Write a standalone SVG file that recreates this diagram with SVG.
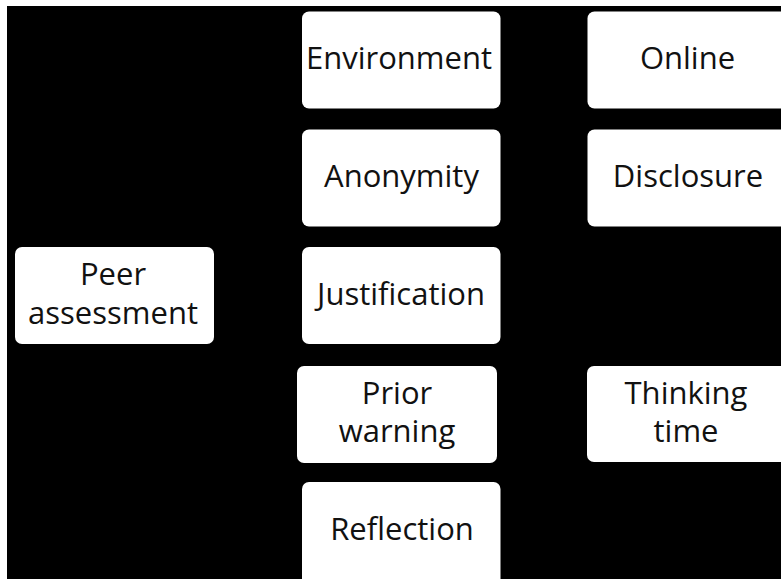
<svg xmlns="http://www.w3.org/2000/svg" width="781" height="579" viewBox="0 0 781 579">
<style>
.box{fill:#ffffff;}
.t{font-family:"Open Sans","Noto Sans","DejaVu Sans",sans-serif;font-size:31px;fill:#111111;text-anchor:middle;}
</style>
<rect x="0" y="0" width="781" height="579" fill="#ffffff"/>
<rect x="7" y="6" width="774" height="573" fill="#000000"/>
<g id="connectors"></g>
<g id="peer-assessment">
<rect class="box" x="15" y="247" width="199" height="97" rx="7"/>
<text class="t" x="113" y="285">Peer</text>
<text class="t" x="113" y="323.5">assessment</text>
</g>
<g id="environment">
<rect class="box" x="302" y="11.5" width="198.5" height="97" rx="7"/>
<text class="t" x="399" y="68.5">Environment</text>
</g>
<g id="anonymity">
<rect class="box" x="302" y="129.5" width="198.5" height="97" rx="7"/>
<text class="t" x="401.5" y="187">Anonymity</text>
</g>
<g id="justification">
<rect class="box" x="302" y="247" width="198.5" height="97" rx="7"/>
<text class="t" x="401" y="305">Justification</text>
</g>
<g id="prior-warning">
<rect class="box" x="297" y="366" width="200" height="97" rx="7"/>
<text class="t" x="397" y="404">Prior</text>
<text class="t" x="397" y="442">warning</text>
</g>
<g id="reflection">
<rect class="box" x="302" y="482" width="198.5" height="104" rx="7"/>
<text class="t" x="402" y="540">Reflection</text>
</g>
<g id="online">
<rect class="box" x="587.5" y="11.5" width="205" height="97" rx="7"/>
<text class="t" x="687.5" y="68.5">Online</text>
</g>
<g id="disclosure">
<rect class="box" x="587.5" y="129.5" width="205" height="97" rx="7"/>
<text class="t" x="688" y="187">Disclosure</text>
</g>
<g id="thinking-time">
<rect class="box" x="587" y="366" width="205" height="96" rx="7"/>
<text class="t" x="686" y="403.5">Thinking</text>
<text class="t" x="686" y="442">time</text>
</g>
</svg>
